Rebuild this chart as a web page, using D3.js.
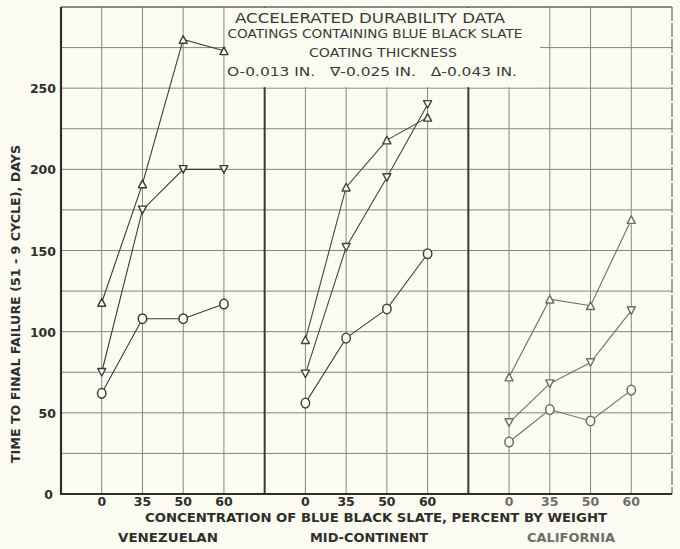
<!DOCTYPE html>
<html>
<head>
<meta charset="utf-8">
<script src="https://cdn.jsdelivr.net/npm/d3@7/dist/d3.min.js"></script>
<style>
  html, body { margin: 0; padding: 0; background: #fcfcf3; }
  svg { display: block; }
  text { font-family: "DejaVu Sans", "Liberation Sans", sans-serif; }
</style>
</head>
<body>
<svg id="chart" width="680" height="549"></svg>
<script>
// Blend groups and slate concentrations (percent by weight)
const groups = ["VENEZUELAN", "MID-CONTINENT", "CALIFORNIA"];
const concentrations = ["0", "35", "50", "60"];
const yTicks = [0, 50, 100, 150, 200, 250];

// Time to final failure, days — one array per blend and coating thickness
const venezuelan013 = [62, 108, 108, 117];
const venezuelan025 = [75, 175, 200, 200];
const venezuelan043 = [118, 191, 280, 273];
const midContinent013 = [56, 96, 114, 148];
const midContinent025 = [74, 152, 195, 240];
const midContinent043 = [95, 189, 218, 232];
const california013 = [32, 52, 45, 64];
const california025 = [44, 68, 81, 113];
const california043 = [72, 120, 116, 169];

const seriesByGroup = [
  [venezuelan013, venezuelan025, venezuelan043],
  [midContinent013, midContinent025, midContinent043],
  [california013, california025, california043]
];
const markerKinds = ["circle", "down", "up"];

const bg = "#fcfcf3";
const ink = "#2e2e2a";
const svg = d3.select("#chart");

const plotLeft = 61, plotRight = 672, plotTop = 7, plotBottom = 494;
// 15 grid columns: 4 data columns per group plus a divider column
const x = d3.scaleLinear().domain([0, 15]).range([plotLeft, plotRight]);
const y = d3.scaleLinear().domain([0, 300]).range([plotBottom, plotTop]);
const col = (g, i) => g * 5 + i + 1;

// Grid
const grid = svg.append("g");
grid.selectAll("line.h")
  .data(d3.range(25, 300, 25))
  .join("line")
  .attr("x1", plotLeft).attr("x2", plotRight)
  .attr("y1", d => y(d)).attr("y2", d => y(d))
  .attr("stroke", "#86867f").attr("stroke-width", 1);
grid.selectAll("line.v")
  .data(d3.range(1, 15).filter(c => c % 5 !== 0))
  .join("line")
  .attr("x1", d => x(d)).attr("x2", d => x(d))
  .attr("y1", plotTop).attr("y2", plotBottom)
  .attr("stroke", "#86867f").attr("stroke-width", 1);

// Group dividers
grid.selectAll("line.div")
  .data([5, 10])
  .join("line")
  .attr("x1", d => x(d)).attr("x2", d => x(d))
  .attr("y1", plotTop).attr("y2", plotBottom)
  .attr("stroke", "#3a3a36").attr("stroke-width", 2);

// Frame
svg.append("line").attr("x1", plotLeft).attr("x2", plotRight).attr("y1", plotTop).attr("y2", plotTop)
  .attr("stroke", "#66665f").attr("stroke-width", 1.3);
svg.append("line").attr("x1", plotRight).attr("x2", plotRight).attr("y1", plotTop).attr("y2", plotBottom)
  .attr("stroke", "#77776f").attr("stroke-width", 1.3).attr("stroke-dasharray", "14 2");

// Title panel
svg.append("rect")
  .attr("x", 226).attr("y", plotTop + 1).attr("width", 314).attr("height", y(250) - plotTop - 2)
  .attr("fill", bg);

const titleLines = [
  { t: "ACCELERATED DURABILITY DATA", cx: 370, by: 23, fs: 14, len: 270 },
  { t: "COATINGS CONTAINING BLUE BLACK SLATE", cx: 375, by: 37.5, fs: 11.5, len: 295 },
  { t: "COATING THICKNESS", cx: 383, by: 56.5, fs: 11.5, len: 148 },
  { t: "O-0.013 IN.   \u2207-0.025 IN.   \u0394-0.043 IN.", cx: 372, by: 76, fs: 12.5, len: 290 }
];
svg.append("g").selectAll("text")
  .data(titleLines)
  .join("text")
  .attr("x", d => d.cx).attr("y", d => d.by)
  .attr("text-anchor", "middle")
  .attr("font-size", d => d.fs)
  .attr("textLength", d => d.len)
  .attr("lengthAdjust", "spacingAndGlyphs")
  .style("white-space", "pre")
  .attr("fill", "#3a3a36")
  .text(d => d.t);

// Series lines and markers
const groupInk = ["#3a3a36", "#44443f", "#6e6e68"];
seriesByGroup.forEach((seriesList, g) => {
  const gg = svg.append("g");
  seriesList.forEach((vals, s) => {
    const pts = vals.map((v, i) => [x(col(g, i)), y(v)]);
    gg.append("path")
      .attr("d", d3.line()(pts))
      .attr("fill", "none")
      .attr("stroke", groupInk[g])
      .attr("stroke-width", 1.1);
  });
  seriesList.forEach((vals, s) => {
    const kind = markerKinds[s];
    vals.forEach((v, i) => {
      const cx = x(col(g, i)), cy = y(v);
      if (kind === "circle") {
        gg.append("ellipse")
          .attr("cx", cx).attr("cy", cy).attr("rx", 4.2).attr("ry", 4.8)
          .attr("fill", bg).attr("stroke", groupInk[g]).attr("stroke-width", 1.5);
      } else {
        const h = 7.5, w = 8;
        const pts = kind === "up"
          ? [[cx, cy - h / 2], [cx + w / 2, cy + h / 2], [cx - w / 2, cy + h / 2]]
          : [[cx - w / 2, cy - h / 2], [cx + w / 2, cy - h / 2], [cx, cy + h / 2]];
        gg.append("path")
          .attr("d", "M" + pts.join("L") + "Z")
          .attr("fill", bg).attr("stroke", groupInk[g]).attr("stroke-width", 1.4)
          .attr("stroke-linejoin", "round");
      }
    });
  });
});

// Axes lines (left and bottom)
svg.append("line").attr("x1", plotLeft).attr("x2", plotLeft).attr("y1", plotTop).attr("y2", plotBottom + 1)
  .attr("stroke", ink).attr("stroke-width", 2.2);
svg.append("line").attr("x1", plotLeft - 1).attr("x2", plotRight).attr("y1", plotBottom).attr("y2", plotBottom)
  .attr("stroke", ink).attr("stroke-width", 2.2);

// Y tick labels
const yAxis = d3.axisLeft(y).tickValues(yTicks).tickSize(0).tickPadding(5);
const yg = svg.append("g").attr("transform", `translate(${plotLeft},0)`).call(yAxis);
yg.select(".domain").remove();
yg.selectAll("text")
  .attr("font-family", "DejaVu Sans, sans-serif")
  .attr("font-size", 12.5).attr("font-weight", "bold").attr("fill", ink)
  .attr("dy", "0.36em");
yg.selectAll(".tick").filter(d => d === 0).select("text").attr("x", -8);

// X tick labels per group
const xTickData = [];
groups.forEach((gname, g) => concentrations.forEach((c, i) => xTickData.push({ g, i, c })));
svg.append("g").selectAll("text")
  .data(xTickData)
  .join("text")
  .attr("x", d => x(col(d.g, d.i)))
  .attr("y", 506)
  .attr("text-anchor", "middle")
  .attr("font-size", 12.5).attr("font-weight", "bold")
  .attr("fill", d => d.g === 2 ? "#6e6e68" : ink)
  .text(d => d.c);

// Axis titles
svg.append("text")
  .attr("x", 376).attr("y", 522)
  .attr("text-anchor", "middle")
  .attr("font-size", 12).attr("font-weight", "bold").attr("fill", ink)
  .attr("textLength", 462).attr("lengthAdjust", "spacingAndGlyphs")
  .text("CONCENTRATION OF BLUE BLACK SLATE, PERCENT BY WEIGHT");

svg.append("text")
  .attr("transform", "translate(20,304) rotate(-90)")
  .attr("text-anchor", "middle")
  .attr("font-size", 12).attr("font-weight", "bold").attr("fill", ink)
  .attr("textLength", 318).attr("lengthAdjust", "spacingAndGlyphs")
  .text("TIME TO FINAL FAILURE (51 - 9 CYCLE), DAYS");

// Group names
const groupLabelPos = [{ cx: 168, len: 100 }, { cx: 369, len: 118 }, { cx: 571, len: 88 }];
svg.append("g").selectAll("text")
  .data(groups)
  .join("text")
  .attr("x", (d, g) => groupLabelPos[g].cx)
  .attr("y", 542)
  .attr("text-anchor", "middle")
  .attr("font-size", 12).attr("font-weight", "bold")
  .attr("fill", (d, g) => g === 2 ? "#6e6e68" : ink)
  .attr("textLength", (d, g) => groupLabelPos[g].len)
  .attr("lengthAdjust", "spacingAndGlyphs")
  .text(d => d);
</script>
</body>
</html>
